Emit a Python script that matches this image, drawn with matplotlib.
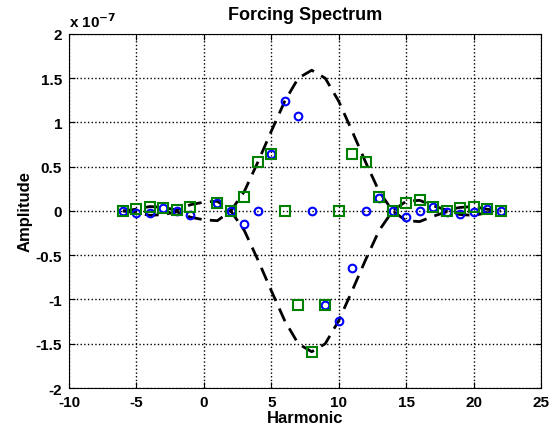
import matplotlib
matplotlib.use("Agg")
import matplotlib.pyplot as plt
import numpy as np

plt.rcParams['font.family'] = ['Liberation Sans', 'DejaVu Sans']
plt.rcParams['axes.unicode_minus'] = False

# harmonics with markers (no harmonic 0)
harmonics = [-6, -5, -4, -3, -2, -1, 1, 2, 3, 4, 5, 6, 7, 8, 9, 10, 11,
             12, 13, 14, 15, 16, 17, 18, 19, 20, 21, 22]
# values in units of 1e-7
real_part = [0.0, -0.02, -0.02, 0.03, 0.0, -0.04, 0.09, 0.0, -0.15, 0.0, 0.64,
             1.24, 1.07, 0.0, -1.06, -1.24, -0.64, 0.0, 0.15, 0.0, -0.07, 0.0,
             0.05, -0.01, -0.03, -0.01, 0.02, 0.0]
imag_part = [0.0, 0.02, 0.05, 0.03, 0.01, 0.05, 0.09, 0.0, 0.16, 0.55, 0.64,
             0.0, -1.06, -1.59, -1.06, 0.0, 0.64, 0.55, 0.16, 0.0, 0.09, 0.12,
             0.05, 0.0, 0.03, 0.05, 0.02, 0.0]

# envelope (magnitude)
env_harm = list(range(-6, 23))
env_mag = [0.0, 0.02, 0.05, 0.04, 0.01, 0.07, 0.1, 0.11, 0.0, 0.22, 0.55, 0.9,
           1.24, 1.5, 1.59, 1.5, 1.24, 0.9, 0.55, 0.22, 0.0, 0.11, 0.12, 0.06,
           0.01, 0.04, 0.05, 0.02, 0.0]

fig = plt.figure(figsize=(5.52, 4.31), dpi=100)
ax = fig.add_axes([0.125, 0.0974, 0.855, 0.8216])

env = np.array(env_mag)
ax.plot(env_harm, env, '--', color='k', lw=2, dashes=(5, 3))
ax.plot(env_harm, -env, '--', color='k', lw=2, dashes=(5, 3))
ax.plot(harmonics, real_part, 'o', mfc='none', mec=(0, 0, 1), ms=5.5, mew=1.5)
ax.plot(harmonics, imag_part, 's', mfc='none', mec=(0, 0.5, 0), ms=7, mew=1.5)

ax.set_xlim(-10, 25)
ax.set_ylim(-2, 2)
ax.set_xticks(np.arange(-10, 26, 5))
ax.set_yticks(np.arange(-2, 2.01, 0.5))
ax.set_yticklabels(['-2', '-1.5', '-1', '-0.5', '0', '0.5', '1', '1.5', '2'])
ax.grid(True, linestyle=':', color='k', lw=1)
ax.tick_params(direction='in', top=True, right=True, labelsize=11, length=4)
ax.tick_params(axis='x', pad=5)
ax.tick_params(axis='y', pad=5)
for lab in ax.get_xticklabels() + ax.get_yticklabels():
    lab.set_fontweight('bold')

ax.set_title('Forcing Spectrum', fontsize=13, fontweight='bold', pad=11)
ax.set_xlabel('Harmonic', fontsize=12, fontweight='bold', labelpad=1)
ax.set_ylabel('Amplitude', fontsize=12, fontweight='bold', labelpad=2)
ax.text(0.0, 1.01, 'x 10$^{\\mathbf{-7}}$', transform=ax.transAxes, fontsize=11,
        fontweight='bold', ha='left', va='bottom')

fig.savefig('out.png', dpi=100)
